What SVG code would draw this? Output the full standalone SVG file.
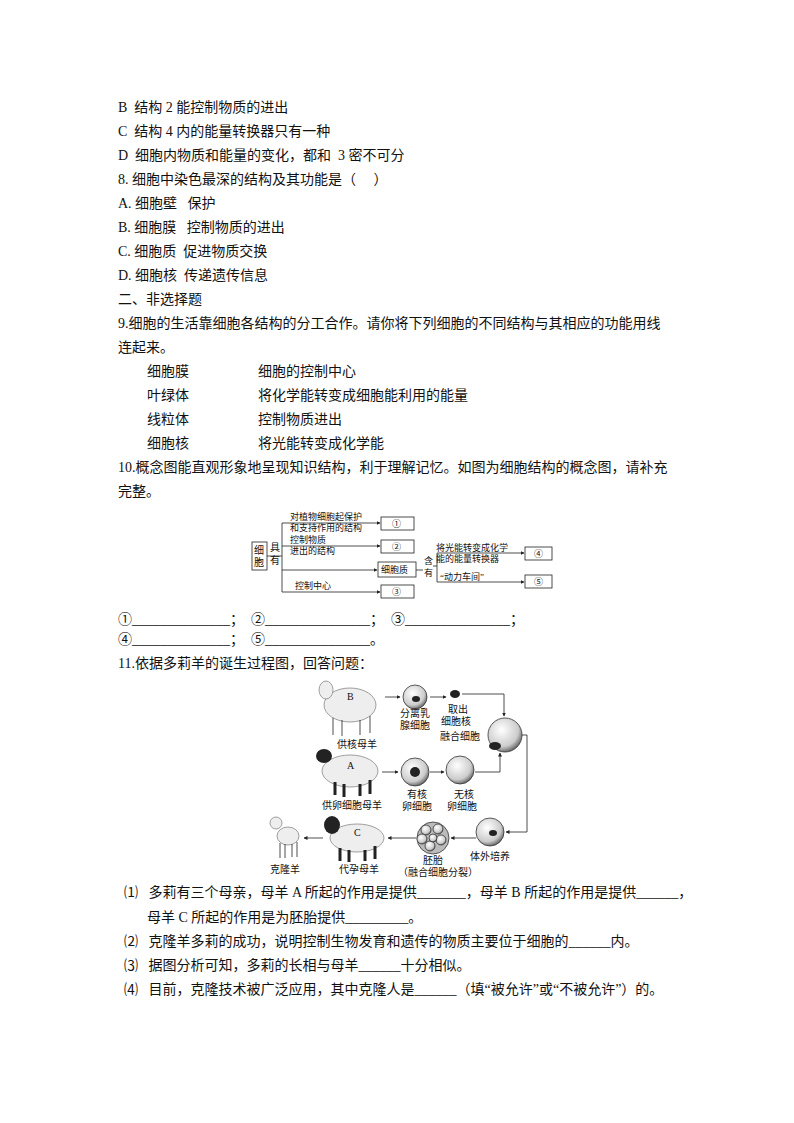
<svg xmlns="http://www.w3.org/2000/svg" width="794" height="1123" viewBox="0 0 794 1123" xml:space="preserve">
<defs>
<marker id="ar" viewBox="0 0 8 8" refX="7" refY="4" markerWidth="5" markerHeight="5" orient="auto"><path d="M0,0L8,4L0,8z" fill="#222"/></marker>
<radialGradient id="cg" cx="0.4" cy="0.35" r="0.7"><stop offset="0" stop-color="#fff"/><stop offset="0.7" stop-color="#ccc"/><stop offset="1" stop-color="#555"/></radialGradient>
</defs>
<style>
text{font-family:"Liberation Serif","Noto Sans CJK SC",serif;fill:#111;white-space:pre}
.t{font-size:14px}
.s{font-size:9px}
.d{font-size:10px}
.b{fill:#fff;stroke:#222;stroke-width:0.8}
.l{fill:none;stroke:#222;stroke-width:0.8}
.cell{fill:url(#cg);stroke:#333;stroke-width:0.8}
.wool{fill:#eee;stroke:#888;stroke-width:0.8}
</style>
<rect width="794" height="1123" fill="#fff"/>
<g id="text">
<text class="t" x="118" y="112">B  结构 2 能控制物质的进出</text>
<text class="t" x="118" y="136">C  结构 4 内的能量转换器只有一种</text>
<text class="t" x="118" y="160">D  细胞内物质和能量的变化，都和  3 密不可分</text>
<text class="t" x="118" y="184">8. 细胞中染色最深的结构及其功能是（     ）</text>
<text class="t" x="118" y="208">A. 细胞壁   保护</text>
<text class="t" x="118" y="232">B. 细胞膜   控制物质的进出</text>
<text class="t" x="118" y="256">C. 细胞质  促进物质交换</text>
<text class="t" x="118" y="280">D. 细胞核  传递遗传信息</text>
<text class="t" x="118" y="304">二、非选择题</text>
<text class="t" x="118" y="328">9.细胞的生活靠细胞各结构的分工合作。请你将下列细胞的不同结构与其相应的功能用线</text>
<text class="t" x="118" y="352">连起来。</text>
<text class="t" x="147" y="376">细胞膜</text><text class="t" x="258" y="376">细胞的控制中心</text>
<text class="t" x="147" y="400">叶绿体</text><text class="t" x="258" y="400">将化学能转变成细胞能利用的能量</text>
<text class="t" x="147" y="424">线粒体</text><text class="t" x="258" y="424">控制物质进出</text>
<text class="t" x="147" y="448">细胞核</text><text class="t" x="258" y="448">将光能转变成化学能</text>
<text class="t" x="118" y="472">10.概念图能直观形象地呈现知识结构，利于理解记忆。如图为细胞结构的概念图，请补充</text>
<text class="t" x="118" y="496">完整。</text>
<text class="t" x="118" y="624">①______________；  ②_______________；  ③_______________；</text>
<text class="t" x="118" y="644">④______________；  ⑤_______________。</text>
<text class="t" x="118" y="668">11.依据多莉羊的诞生过程图，回答问题：</text>
<text class="t" x="124" y="897">⑴   多莉有三个母亲，母羊 A 所起的作用是提供_______，母羊 B 所起的作用是提供______，</text>
<text class="t" x="147" y="922">母羊 C 所起的作用是为胚胎提供_________。</text>
<text class="t" x="124" y="946">⑵   克隆羊多莉的成功，说明控制生物发育和遗传的物质主要位于细胞的______内。</text>
<text class="t" x="124" y="970">⑶   据图分析可知，多莉的长相与母羊______十分相似。</text>
<text class="t" x="124" y="994">⑷   目前，克隆技术被广泛应用，其中克隆人是______（填“被允许”或“不被允许”）的。</text>
</g>
<g id="concept-map">
<rect class="b" x="252" y="542" width="15" height="28"/>
<text class="d" x="254" y="554">细</text><text class="d" x="254" y="566">胞</text>
<text class="d" x="270" y="551">具</text><text class="d" x="270" y="564">有</text>
<path class="l" d="M267,556H282M282,523V592"/>
<path class="l" d="M282,523H380" marker-end="url(#ar)"/>
<path class="l" d="M282,546H380" marker-end="url(#ar)"/>
<path class="l" d="M282,570H377" marker-end="url(#ar)"/>
<path class="l" d="M282,592H380" marker-end="url(#ar)"/>
<text class="s" x="290" y="520">对植物细胞起保护</text>
<text class="s" x="290" y="531">和支持作用的结构</text>
<text class="s" x="290" y="543">控制物质</text>
<text class="s" x="290" y="554">进出的结构</text>
<text class="s" x="295" y="589">控制中心</text>
<rect class="b" x="381" y="517" width="33" height="13"/><text class="s" x="392" y="527">①</text>
<rect class="b" x="381" y="540" width="33" height="13"/><text class="s" x="392" y="550">②</text>
<rect class="b" x="378" y="562" width="38" height="15"/><text class="s" x="381" y="573">细胞质</text>
<rect class="b" x="381" y="585" width="33" height="13"/><text class="s" x="392" y="595">③</text>
<text class="s" x="424" y="564">含</text><text class="s" x="424" y="576">有</text>
<path class="l" d="M416,570H423M433,566H437M437,553V582"/>
<path class="l" d="M437,553H524" marker-end="url(#ar)"/>
<path class="l" d="M437,582H524" marker-end="url(#ar)"/>
<text class="s" x="436" y="551">将光能转变成化学</text>
<text class="s" x="436" y="562">能的能量转换器</text>
<text class="s" x="440" y="580">“动力车间”</text>
<rect class="b" x="525" y="547" width="27" height="13"/><text class="s" x="534" y="557">④</text>
<rect class="b" x="525" y="575" width="27" height="13"/><text class="s" x="534" y="585">⑤</text>
</g>
<g id="dolly">
<g id="sheep-b"><ellipse class="wool" cx="350" cy="705" rx="26" ry="17"/><ellipse class="wool" cx="326" cy="690" rx="7" ry="9"/><path class="l" d="M333,718V735M342,720V736M360,720V735M370,716V733"/><text class="d" x="347" y="700">B</text></g>
<text class="d" x="337" y="748">供核母羊</text>
<circle class="cell" cx="415" cy="697" r="12"/><ellipse cx="416" cy="699" rx="4" ry="3" fill="#222"/>
<text class="d" x="400" y="717">分离乳</text><text class="d" x="400" y="729">腺细胞</text>
<ellipse cx="455" cy="694" rx="5" ry="4" fill="#222"/>
<text class="d" x="448" y="713">取出</text><text class="d" x="441" y="725">细胞核</text><text class="d" x="440" y="740">融合细胞</text>
<circle class="cell" cx="505" cy="735" r="17"/><ellipse cx="495" cy="746" rx="6" ry="4" fill="#222"/>
<g id="sheep-a"><ellipse class="wool" cx="350" cy="771" rx="28" ry="16"/><ellipse cx="324" cy="756" rx="8" ry="7" fill="#222"/><path d="M335,782V795M344,784V797M360,784V796M370,780V794" stroke="#222" stroke-width="3"/><text class="d" x="347" y="769">A</text></g>
<text class="d" x="322" y="809">供卵细胞母羊</text>
<circle class="cell" cx="415" cy="772" r="14"/><circle cx="415" cy="772" r="5" fill="#222"/>
<text class="d" x="407" y="798">有核</text><text class="d" x="402" y="810">卵细胞</text>
<circle class="cell" cx="460" cy="770" r="14"/>
<text class="d" x="454" y="798">无核</text><text class="d" x="447" y="810">卵细胞</text>
<circle class="cell" cx="490" cy="832" r="14"/><ellipse cx="493" cy="833" rx="4" ry="3" fill="#222"/>
<text class="d" x="470" y="860">体外培养</text>
<g id="embryo"><circle cx="433" cy="838" r="16" fill="#bbb" stroke="#333" stroke-width="0.8"/>
<circle cx="426" cy="830" r="5" class="cell"/><circle cx="438" cy="829" r="5" class="cell"/><circle cx="441" cy="840" r="5" class="cell"/><circle cx="430" cy="846" r="5" class="cell"/><circle cx="422" cy="839" r="5" class="cell"/><circle cx="433" cy="838" r="4" class="cell"/></g>
<text class="d" x="423" y="864">胚胎</text><text class="d" x="398" y="876">（融合细胞分裂）</text>
<g id="sheep-c"><ellipse class="wool" cx="357" cy="838" rx="27" ry="14"/><ellipse cx="332" cy="825" rx="8" ry="9" fill="#222"/><path d="M340,848V861M349,850V862M365,850V861M375,846V859" stroke="#222" stroke-width="3"/><text class="d" x="354" y="836">C</text></g>
<text class="d" x="339" y="873">代孕母羊</text>
<g id="lamb"><ellipse class="wool" cx="288" cy="836" rx="11" ry="9"/><ellipse class="wool" cx="276" cy="823" rx="6" ry="6"/><path class="l" d="M280,843V858M285,844V858M292,844V857M297,842V857"/></g>
<text class="d" x="270" y="873">克隆羊</text>
</g>
<g id="connectors">
<path class="l" d="M385,697H400" marker-end="url(#ar)"/>
<path class="l" d="M430,697H446" marker-end="url(#ar)"/>
<path class="l" d="M462,694H504V716" marker-end="url(#ar)"/>
<path class="l" d="M382,772H398" marker-end="url(#ar)"/>
<path class="l" d="M430,772H444" marker-end="url(#ar)"/>
<path class="l" d="M475,772H500V753" marker-end="url(#ar)"/>
<path class="l" d="M522,735H527V832H506" marker-end="url(#ar)"/>
<path class="l" d="M476,838H451" marker-end="url(#ar)"/>
<path class="l" d="M416,838H388" marker-end="url(#ar)"/>
<path class="l" d="M323,838H304" marker-end="url(#ar)"/>
</g>
</svg>
